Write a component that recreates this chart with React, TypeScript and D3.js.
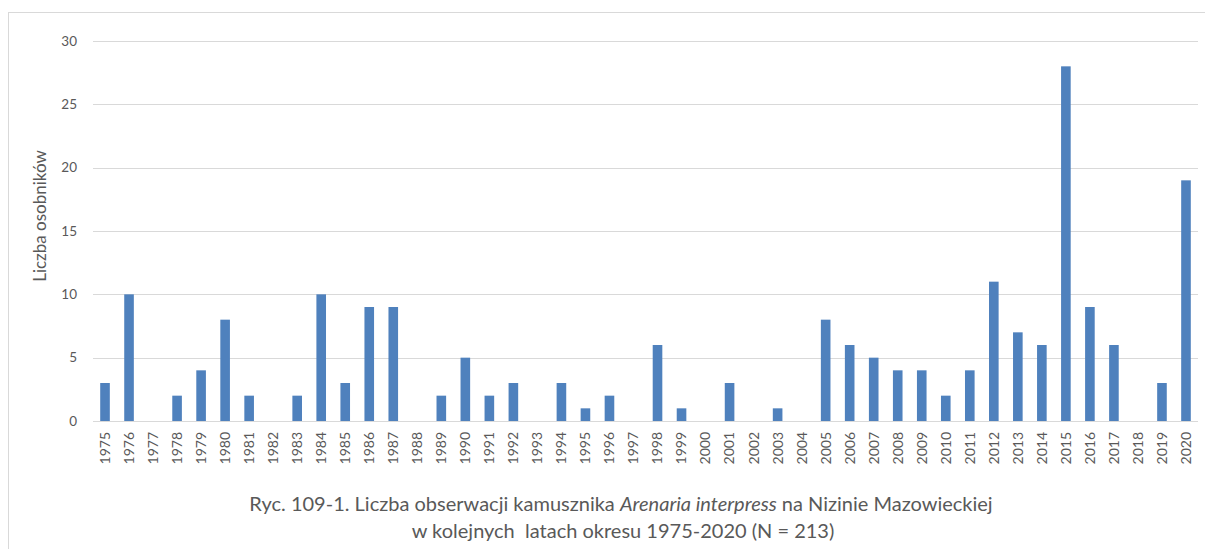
import React, { useRef, useEffect } from 'react';
import * as d3 from 'd3';

const years = [
  '1975', '1976', '1977', '1978', '1979', '1980', '1981', '1982', '1983', '1984',
  '1985', '1986', '1987', '1988', '1989', '1990', '1991', '1992', '1993', '1994',
  '1995', '1996', '1997', '1998', '1999', '2000', '2001', '2002', '2003', '2004',
  '2005', '2006', '2007', '2008', '2009', '2010', '2011', '2012', '2013', '2014',
  '2015', '2016', '2017', '2018', '2019', '2020',
];
const counts = [
  3, 10, 0, 2, 4, 8, 2, 0, 2, 10,
  3, 9, 9, 0, 2, 5, 2, 3, 0, 3,
  1, 2, 0, 6, 1, 0, 3, 0, 1, 0,
  8, 6, 5, 4, 4, 2, 4, 11, 7, 6,
  28, 9, 6, 0, 3, 19,
];
const yTicks = [0, 5, 10, 15, 20, 25, 30];
const yTitle = 'Liczba osobników';
const captionLine1 = ['Ryc. 109-1. Liczba obserwacji kamusznika ', 'Arenaria interpress', ' na Nizinie Mazowieckiej'];
const captionLine2 = 'w kolejnych  latach okresu 1975-2020 (N = 213)';

const W = 1205;
const H = 549;
const FONT = 'Lato, "Open Sans", sans-serif';
const TEXT = '#595959';

function App() {
  const svgRef = useRef<SVGSVGElement>(null);

  useEffect(() => {
    const svg = d3.select(svgRef.current);
    svg.selectAll('*').remove();

    const left = 93, right = 1198, top = 41, bottom = 421;
    const data = years.map((y, i) => ({ year: y, value: counts[i] }));

    const x = d3.scaleBand().domain(years).range([left, right]).paddingInner(0.6).paddingOuter(0.3);
    const y = d3.scaleLinear().domain([0, 30]).range([bottom, top]);

    // frame
    svg.append('rect')
      .attr('x', 8.5).attr('y', 12.5)
      .attr('width', W).attr('height', H)
      .attr('fill', 'white').attr('stroke', '#d9d9d9');

    // grid
    svg.append('g')
      .selectAll('line')
      .data(yTicks)
      .join('line')
      .attr('x1', left).attr('x2', right)
      .attr('y1', d => Math.round(y(d)) + 0.5).attr('y2', d => Math.round(y(d)) + 0.5)
      .attr('stroke', '#d9d9d9');

    const yAxis = svg.append('g')
      .attr('transform', `translate(${left},0)`)
      .call(d3.axisLeft(y).tickValues(yTicks).tickSize(0).tickPadding(16));
    yAxis.select('.domain').remove();
    yAxis.selectAll('text')
      .attr('fill', TEXT).attr('font-family', FONT).attr('font-size', 13.5);

    // bars
    svg.append('g')
      .selectAll('rect')
      .data(data)
      .join('rect')
      .attr('x', d => x(d.year)!)
      .attr('width', x.bandwidth())
      .attr('y', d => y(d.value))
      .attr('height', d => y(0) - y(d.value))
      .attr('fill', '#4f81bd');

    const xAxis = svg.append('g')
      .attr('transform', `translate(0,${bottom})`)
      .call(d3.axisBottom(x).tickSize(0).tickPadding(0));
    xAxis.select('.domain').remove();
    xAxis.selectAll('text')
      .attr('fill', TEXT).attr('font-family', FONT).attr('font-size', 14)
      .attr('transform', 'rotate(-90)')
      .attr('text-anchor', 'end')
      .attr('x', -11).attr('y', 0).attr('dy', '0.35em');

    svg.append('text')
      .attr('transform', `translate(46,216) rotate(-90)`)
      .attr('text-anchor', 'middle')
      .attr('fill', TEXT).attr('font-family', FONT).attr('font-size', 17)
      .text(yTitle);

    const cap1 = svg.append('text')
      .attr('x', 621).attr('y', 511)
      .attr('text-anchor', 'middle')
      .attr('fill', TEXT).attr('font-family', FONT).attr('font-size', 20);
    captionLine1.forEach((t, i) => {
      cap1.append('tspan').attr('font-style', i === 1 ? 'italic' : 'normal').text(t);
    });

    svg.append('text')
      .attr('x', 623).attr('y', 538)
      .attr('text-anchor', 'middle')
      .attr('fill', TEXT).attr('font-family', FONT).attr('font-size', 20)
      .style('white-space', 'pre')
      .text(captionLine2);
  }, []);

  return (
    <svg ref={svgRef} width={W} height={H}
      style={{ position: 'absolute', left: 0, top: 0, background: 'white' }} />
  );
}

export default App;
